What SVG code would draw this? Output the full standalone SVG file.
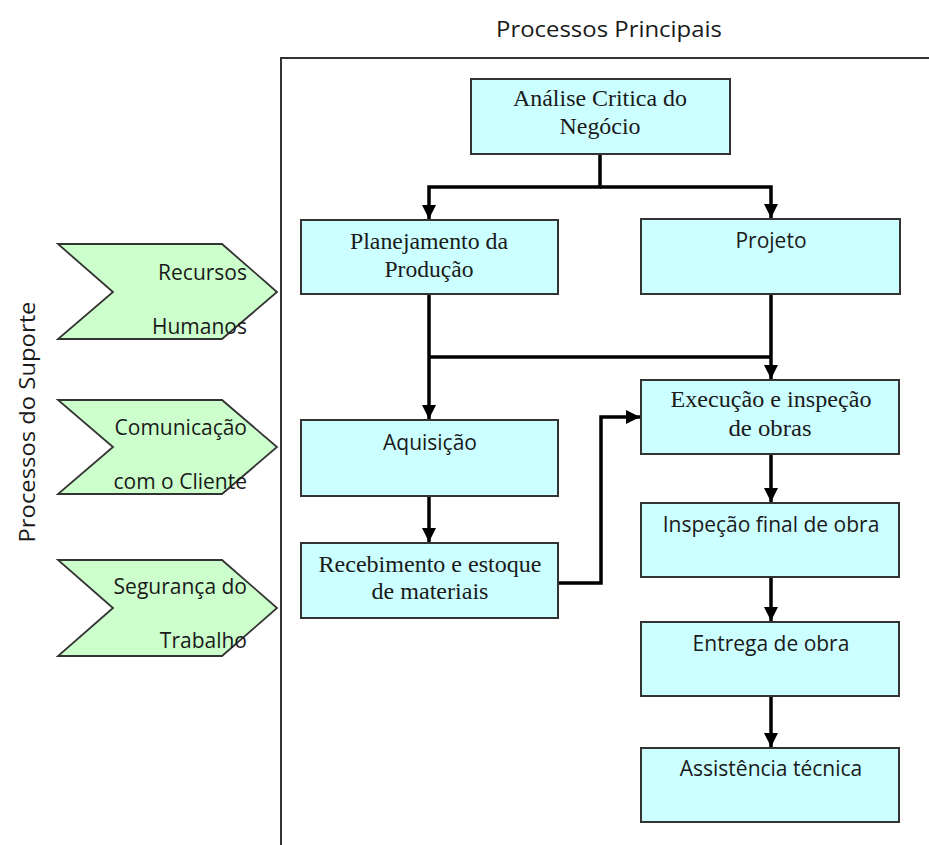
<svg xmlns="http://www.w3.org/2000/svg" width="929" height="845" viewBox="0 0 929 845">
<style>
  .box { fill: #CCFFFF; stroke: #333; stroke-width: 2; }
  .chev { fill: #CCFFCC; stroke: #333; stroke-width: 1.8; }
  .serif { font-family: "Liberation Serif", "Times New Roman", serif; font-size: 23px; fill: #1a1a1a; text-anchor: middle; }
  .sans { font-family: "Open Sans", "Noto Sans", sans-serif; font-size: 21px; fill: #1a1a1a; text-anchor: middle; }
  .chevtxt { font-family: "Open Sans", "Noto Sans", sans-serif; font-size: 21px; fill: #1a1a1a; text-anchor: end; }
  .frame { fill: none; stroke: #333; stroke-width: 2; }
  .conn { fill: none; stroke: #000; stroke-width: 3.5; }
</style>
<defs>
  <marker id="arr" markerUnits="userSpaceOnUse" markerWidth="16" markerHeight="16" viewBox="0 0 16 16" refX="14" refY="8" orient="auto">
    <path d="M0,1 L14,8 L0,15 Z" fill="#000"/>
  </marker>
</defs>
<rect width="929" height="845" fill="#fff"/>

<g id="frame">
  <text x="609" y="37" class="sans" font-size="22" textLength="226" lengthAdjust="spacingAndGlyphs">Processos Principais</text>
  <path class="frame" d="M929,58 H281 V845"/>
  <text transform="translate(35,422) rotate(-90)" class="sans" font-size="22" textLength="241" lengthAdjust="spacingAndGlyphs">Processos do Suporte</text>
</g>

<g id="connectors">
  <path class="conn" d="M600,154 V187 H429 V219" marker-end="url(#arr)"/>
  <path class="conn" d="M600,187 H771 V218" marker-end="url(#arr)"/>
  <path class="conn" d="M429,294 V419" marker-end="url(#arr)"/>
  <path class="conn" d="M429,357 H771"/>
  <path class="conn" d="M771,294 V379" marker-end="url(#arr)"/>
  <path class="conn" d="M429,496 V542" marker-end="url(#arr)"/>
  <path class="conn" d="M558,583 H601 V417 H640" marker-end="url(#arr)"/>
  <path class="conn" d="M771,454 V502" marker-end="url(#arr)"/>
  <path class="conn" d="M771,577 V621" marker-end="url(#arr)"/>
  <path class="conn" d="M771,696 V747" marker-end="url(#arr)"/>
</g>

<g id="analise">
  <rect class="box" x="471" y="79" width="259" height="75"/>
  <text class="serif" x="600" y="106" textLength="174" lengthAdjust="spacingAndGlyphs">Análise Critica do</text>
  <text class="serif" x="600" y="134" textLength="81" lengthAdjust="spacingAndGlyphs">Negócio</text>
</g>

<g id="planejamento">
  <rect class="box" x="301" y="220" width="257" height="74"/>
  <text class="serif" x="429" y="249" textLength="158" lengthAdjust="spacingAndGlyphs">Planejamento da</text>
  <text class="serif" x="429" y="277" textLength="89" lengthAdjust="spacingAndGlyphs">Produção</text>
</g>

<g id="projeto">
  <rect class="box" x="641" y="219" width="259" height="75"/>
  <text class="sans" x="771" y="248">Projeto</text>
</g>

<g id="aquisicao">
  <rect class="box" x="301" y="420" width="257" height="76"/>
  <text class="sans" x="430" y="450">Aquisição</text>
</g>

<g id="recebimento">
  <rect class="box" x="301" y="543" width="257" height="75"/>
  <text class="serif" x="430" y="572" textLength="223" lengthAdjust="spacingAndGlyphs">Recebimento e estoque</text>
  <text class="serif" x="430" y="599" textLength="117" lengthAdjust="spacingAndGlyphs">de materiais</text>
</g>

<g id="execucao">
  <rect class="box" x="641" y="380" width="258" height="74"/>
  <text class="serif" x="771" y="407" textLength="201" lengthAdjust="spacingAndGlyphs">Execução e inspeção</text>
  <text class="serif" x="770" y="436" textLength="83" lengthAdjust="spacingAndGlyphs">de obras</text>
</g>

<g id="inspecao">
  <rect class="box" x="641" y="503" width="258" height="74"/>
  <text class="sans" x="771" y="532">Inspeção final de obra</text>
</g>

<g id="entrega">
  <rect class="box" x="641" y="622" width="258" height="74"/>
  <text class="sans" x="771" y="651">Entrega de obra</text>
</g>

<g id="assistencia">
  <rect class="box" x="641" y="748" width="258" height="74"/>
  <text class="sans" x="771" y="776">Assistência técnica</text>
</g>

<g id="recursos-humanos">
  <polygon class="chev" points="58,244 222,244 277,292 222,339 58,339 113,292"/>
  <text class="chevtxt" x="247" y="280">Recursos</text>
  <text class="chevtxt" x="247" y="334">Humanos</text>
</g>

<g id="comunicacao">
  <polygon class="chev" points="58,400 222,400 277,447 222,494 58,494 113,447"/>
  <text class="chevtxt" x="247" y="435">Comunicação</text>
  <text class="chevtxt" x="247" y="489">com o Cliente</text>
</g>

<g id="seguranca">
  <polygon class="chev" points="58,560 222,560 277,608 222,656 58,656 113,608"/>
  <text class="chevtxt" x="247" y="594">Segurança do</text>
  <text class="chevtxt" x="247" y="648">Trabalho</text>
</g>
</svg>
